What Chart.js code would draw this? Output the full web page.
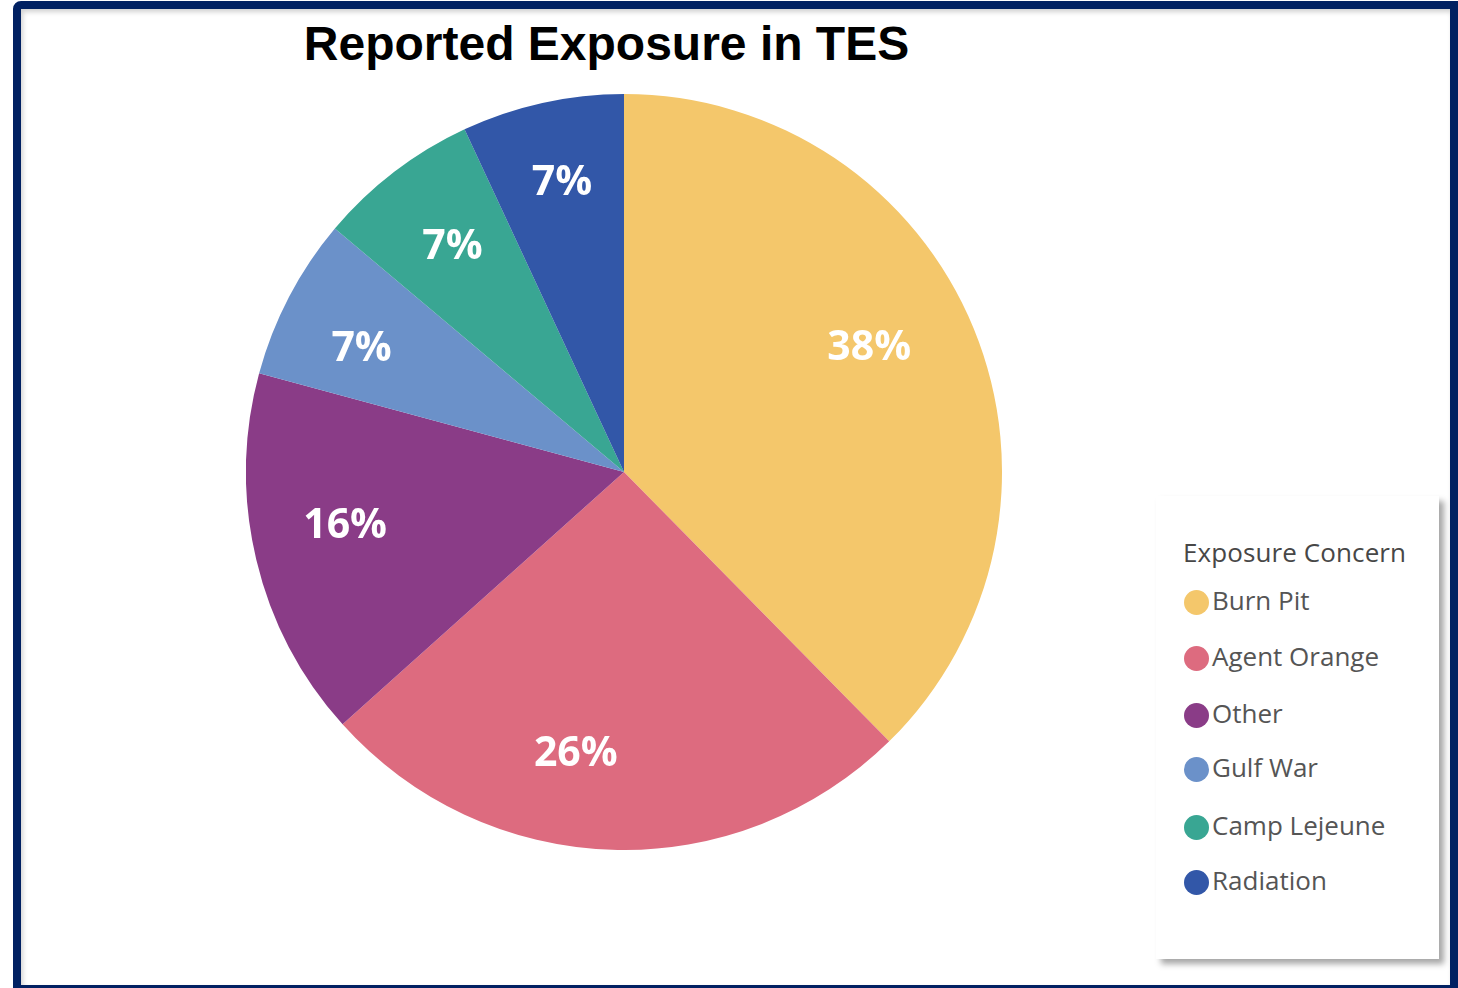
<!DOCTYPE html>
<html>
<head>
<meta charset="utf-8">
<title>Reported Exposure in TES</title>
<script src="https://cdn.jsdelivr.net/npm/chart.js@4.4.1/dist/chart.umd.min.js"></script>
<style>
    html, body { margin: 0; padding: 0; background: #fff; width: 1458px; height: 988px; overflow: hidden; }
    #frame {
        position: absolute; left: 13px; top: 1px; width: 1445px; height: 992px;
        box-sizing: border-box; border: 8px solid #012162; border-radius: 8px 0 0 0;
        box-shadow: inset 2px 3px 5px rgba(0,0,0,0.18);
    }
    #title {
        position: absolute; left: 0; width: 1213px; top: 16px; text-align: center;
        font-family: "Liberation Sans", Arial, sans-serif; font-weight: bold; font-size: 48px; color: #000;
    }
    #pie { position: absolute; left: 246px; top: 94px; }
    #legend {
        position: absolute; left: 1156px; top: 496px; width: 283px; height: 463px;
        background: #fff; box-shadow: 5px 5px 6px rgba(0,0,0,0.35);
        font-family: "Open Sans", sans-serif; font-size: 26px; color: #555;
    }
    #legend .head { position: absolute; left: 27px; top: 38px; color: #474747; letter-spacing: 0.1px; }
    #legend .item { position: absolute; left: 28px; height: 30px; line-height: 30px; white-space: nowrap; }
    #legend .dot { display: inline-block; width: 25px; height: 25px; border-radius: 50%; vertical-align: -5px; margin-right: 3px; }
</style>
</head>
<body>
<div id="frame"></div>
<div id="title">Reported Exposure in TES</div>
<canvas id="pie" width="756" height="756"></canvas>
<div id="legend"><div class="head">Exposure Concern</div></div>
<script>
const legendTitle = "Exposure Concern";
const exposures = ["Burn Pit", "Agent Orange", "Other", "Gulf War", "Camp Lejeune", "Radiation"];
const percents = [38, 26, 16, 7, 7, 7];
const sliceColors = ["#F4C76B", "#DD6B7F", "#8A3C87", "#6B91C9", "#39A693", "#3257A8"];

// white percentage labels inside each slice
// (label placement in the original is not exactly on the mid angle, so small per-slice tweaks)
const sliceLabels = {
    id: "sliceLabels",
    afterDatasetsDraw(chart, args, opts) {
        const ctx = chart.ctx;
        const meta = chart.getDatasetMeta(0);
        ctx.save();
        ctx.fillStyle = "#fff";
        ctx.font = "bold 41px 'Open Sans'";
        ctx.textAlign = "center";
        ctx.textBaseline = "middle";
        meta.data.forEach((arc, i) => {
            const p = arc.getProps(["x", "y", "startAngle", "endAngle", "outerRadius"], true);
            const mid = (p.startAngle + p.endAngle) / 2 + opts.angleShift[i] * Math.PI / 180;
            const r = p.outerRadius * opts.radiusFactor[i];
            ctx.fillText(percents[i] + "%", p.x + Math.cos(mid) * r, p.y + Math.sin(mid) * r + 3);
        });
        ctx.restore();
    }
};

new Chart("pie", {
    type: "pie",
    data: {
        labels: exposures,
        datasets: [{
            data: percents,
            backgroundColor: sliceColors,
            borderWidth: 0,
            hoverOffset: 0,
            offset: 0
        }]
    },
    options: {
        responsive: false,
        devicePixelRatio: 1,
        animation: false,
        events: [],
        layout: { padding: 0 },
        plugins: {
            legend: { display: false },
            title: { display: false },
            tooltip: { enabled: false },
            sliceLabels: {
                angleShift: [-5, 8, 3, -2, 0.5, 0.5],
                radiusFactor: [0.73, 0.75, 0.75, 0.77, 0.755, 0.79]
            }
        }
    },
    plugins: [sliceLabels]
});

// legend box
const legend = document.getElementById("legend");
legend.querySelector(".head").textContent = legendTitle;
const itemTops = [89, 145, 202, 256, 314, 369];
exposures.forEach((name, i) => {
    const item = document.createElement("div");
    item.className = "item";
    item.style.top = itemTops[i] + "px";
    item.innerHTML = '<span class="dot" style="background:' + sliceColors[i] + '"></span>' + name;
    legend.appendChild(item);
});
</script>
</body>
</html>
